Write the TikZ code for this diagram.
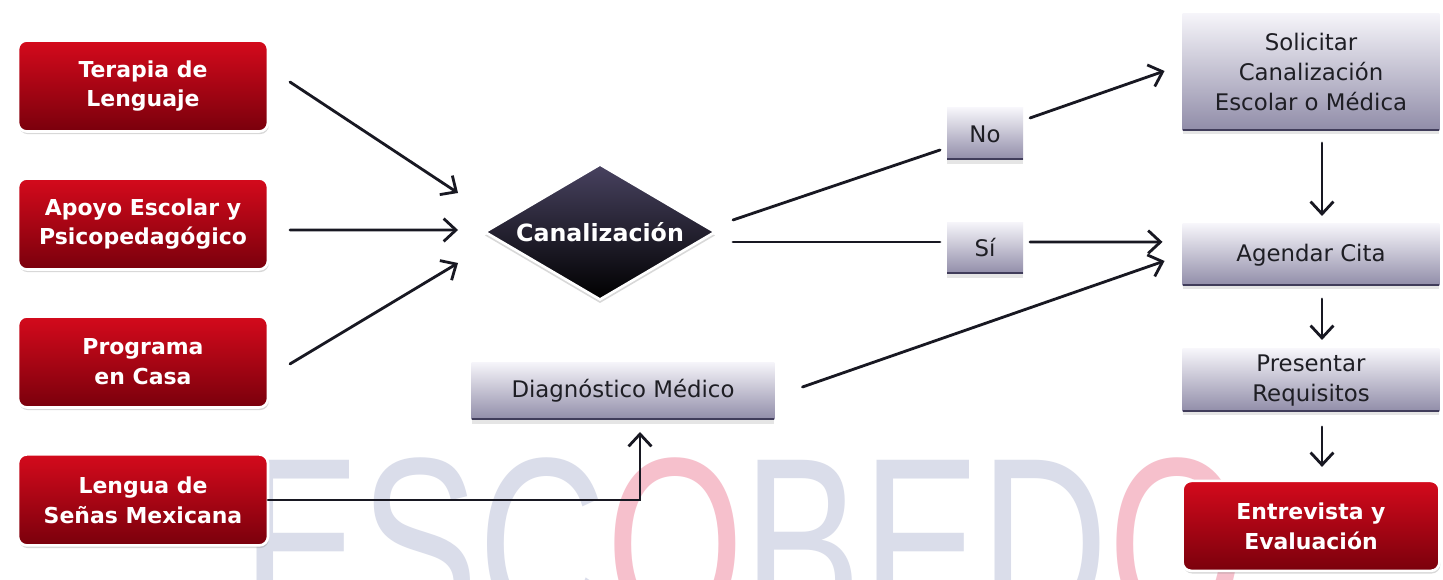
\documentclass[tikz,border=0pt]{standalone}
\usepackage{fontspec}
\setmainfont{DejaVu Sans}
\newfontfamily\wmfont{Liberation Sans}
\usetikzlibrary{shapes.geometric,arrows.meta,positioning,shadows}
\definecolor{redtop}{RGB}{212,10,28}
\definecolor{redbot}{RGB}{122,0,12}
\definecolor{graytop}{RGB}{246,245,250}
\definecolor{graybot}{RGB}{144,140,168}
\definecolor{grayline}{RGB}{64,60,90}
\definecolor{graytext}{RGB}{30,30,36}
\definecolor{dectop}{RGB}{72,66,96}
\definecolor{linecol}{RGB}{24,24,34}
\definecolor{wmgray}{RGB}{218,221,234}
\definecolor{wmpink}{RGB}{246,192,204}

\begin{document}
\begin{tikzpicture}[x=0.02cm,y=-0.02cm,node distance=0.94cm,outer sep=0pt,inner sep=2pt]
        \tikzset{redfield/.style={align=center,shape=rectangle,rounded corners=5pt,minimum width=5cm,minimum height=1.82cm,top color=redtop,bottom color=redbot,draw=white,line width=1.5pt,drop shadow={shadow xshift=0.5pt,shadow yshift=-1.5pt,opacity=0.3},text=white,font=\fontsize{12.5}{17}\selectfont\bfseries}}
        \tikzset{grayfield/.style={align=center,shape=rectangle,minimum width=5.14cm,top color=graytop,bottom color=graybot,drop shadow={shadow xshift=0pt,shadow yshift=-2pt,opacity=0.2},text=graytext,font=\fontsize{13}{17}\selectfont,path picture={\draw[grayline,line width=2pt] (path picture bounding box.south west) -- (path picture bounding box.south east);}}}
        \tikzset{decision/.style={shape=diamond,aspect=1.7,minimum width=4.6cm,minimum height=2.7cm,inner sep=0pt,top color=dectop,bottom color=black,draw=white,line width=1.5pt,drop shadow={shadow xshift=0pt,shadow yshift=-2pt,opacity=0.3},text=white,font=\fontsize{13.5}{16}\selectfont\bfseries}}
        \tikzset{line/.style={draw=linecol,line width=1.6pt,line cap=round}}
        \tikzset{arr/.style={line,-{Straight Barb[length=7pt,width=13pt]}}}

        \fill[white] (0,0) rectangle (1443,580);
        \useasboundingbox (0,0) rectangle (1443,580);

        % watermark
        \begin{scope}
            \clip (0,0) rectangle (1443,580);
            \node[anchor=north west,inner sep=0pt,xscale=0.72,font=\wmfont\fontsize{140}{140}\selectfont] (marca) at (242,458) {\color{wmgray}ESC\color{wmpink}O\color{wmgray}BED\color{wmpink}O};
        \end{scope}

        % left column
        \node [redfield] (ter) at (143,86) {Terapia de\\Lenguaje};
        \node [redfield,below=of ter] (apo) {Apoyo Escolar y\\Psicopedagógico};
        \node [redfield,below=of apo] (pro) {Programa\\en Casa};
        \node [redfield,below=of pro] (len) {Lengua de\\Señas Mexicana};

        % middle
        \node [decision] (canal) at (600,232) {Canalización};
        \node [grayfield,minimum width=6.06cm,minimum height=1.16cm] (diag) at (623,391) {Diagnóstico Médico};
        \node [grayfield,minimum width=1.52cm,minimum height=1.04cm] (no) at (985,134) {No};
        \node [grayfield,minimum width=1.52cm,minimum height=1.04cm] (si) at (985,248) {Sí};

        % right column
        \node [grayfield,minimum height=2.36cm] (sol) at (1311,72) {Solicitar\\Canalización\\Escolar o Médica};
        \node [grayfield,below=1.86cm of sol,minimum height=1.24cm] (age) {Agendar Cita};
        \node [grayfield,below=1.26cm of age,minimum height=1.26cm] (pre) {Presentar\\Requisitos};
        \node [redfield,below=1.38cm of pre,minimum width=5.14cm,minimum height=1.8cm] (ent) {Entrevista y\\Evaluación};

        % connectors
        \draw[arr] ([shift={(22,-4)}]ter.east) -- ([shift={(-27,-39)}]canal.west);
        \draw[arr] ([shift={(22,6)}]apo.east) -- ([shift={(-27,-2)}]canal.west);
        \draw[arr] ([shift={(22,2)}]pro.east) -- ([shift={(-27,31)}]canal.west);
        \draw[arr] (len.east) -| ([shift={(17,12)}]diag.south);
        \draw[line] ([shift={(18,-12)}]canal.east) -- ([shift={(-7,16)}]no.west);
        \draw[arr] ([shift={(7,-16)}]no.east) -- ([shift={(-18,-1)}]sol.west);
        \draw[line] ([shift={(18,10)}]canal.east) -- ([shift={(-7,-6)}]si.west);
        \draw[arr] ([shift={(7,-6)}]si.east) -- ([shift={(-20,-13)}]age.west);
        \draw[arr] ([shift={(28,-4)}]diag.east) -- ([shift={(-18,6)}]age.west);
        \draw[arr] ([shift={(11,12)}]sol.south) -- ([shift={(11,-8)}]age.north);
        \draw[arr] ([shift={(11,13)}]age.south) -- ([shift={(11,-9)}]pre.north);
        \draw[arr] ([shift={(11,15)}]pre.south) -- ([shift={(11,-14)}]ent.north);
\end{tikzpicture}
\end{document}
